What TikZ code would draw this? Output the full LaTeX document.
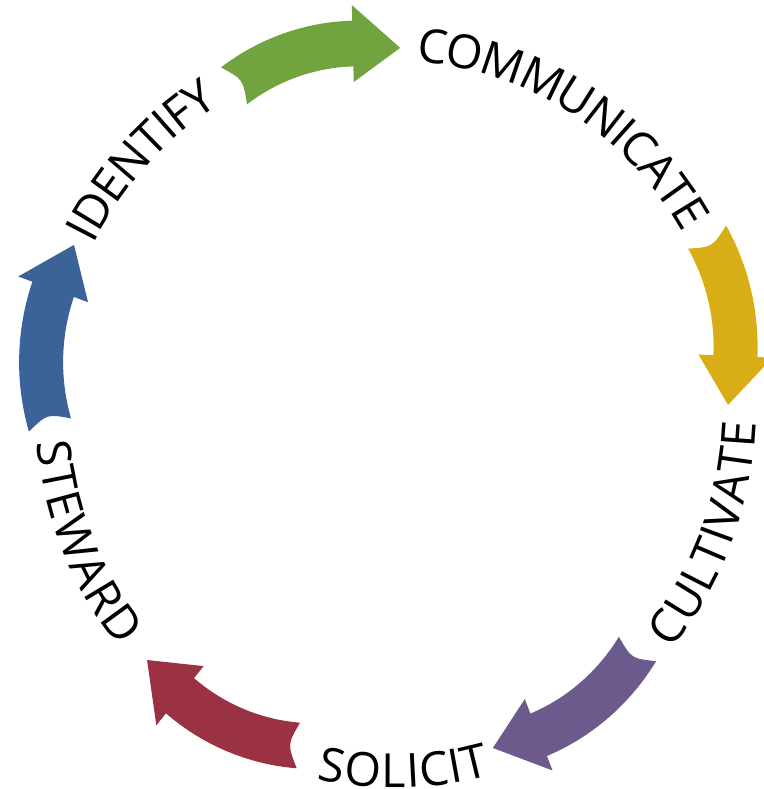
\documentclass[tikz,border=0pt]{standalone}
\usepackage{fontspec}
\usepackage{tikz}
\usetikzlibrary{decorations.text}
\newfontfamily\cyclefont{Open Sans}
\definecolor{idgreen}{HTML}{71A33E}
\definecolor{comyellow}{HTML}{D8AD16}
\definecolor{cultpurple}{HTML}{6D5A8D}
\definecolor{solred}{HTML}{9A3244}
\definecolor{stewblue}{HTML}{3B6299}
% colour, centre of the arc, tail angle, tip angle
\newcommand{\cyclearrow}[4]{%
  \fill[#1, shift={(#2)}] (#3:232) arc[start angle=#3, end angle=#4+13, radius=232]
    -- ({#4+13}:247) -- (#4:210) -- ({#4+13}:173) -- ({#4+13}:188)
    arc[start angle=#4+13, end angle=#3, radius=188]
    .. controls ({#3-3}:210) .. cycle;
}
\tikzset{
  cycle text/.style={decorate, decoration={text along path, text align=center, raise=-17pt,
    text={|\cyclefont\fontsize{47}{50}\selectfont|#1}}}
}

\begin{document}
\begin{tikzpicture}[x=1pt, y=1pt]
\useasboundingbox (0,0) rectangle (763,789);
\begin{scope}[shift={(395,381)}, yscale=1.04]
    \cyclearrow{idgreen}{-36.7,140.5}{126.3}{78.5}
    \cyclearrow{comyellow}{130.6,58.7}{30.2}{-15.4}
    \cyclearrow{cultpurple}{65,-119.5}{-32.3}{-81}
    \cyclearrow{solred}{-80.9,-115.1}{-94.3}{-142.7}
    \cyclearrow{stewblue}{-143.9,44}{196.7}{147.5}
    \path[cycle text=IDENTIFY] (176.5:357) arc[start angle=176.5, end angle=96.5, radius=357];
    \path[cycle text=COMMUNICATE] (103.6:350) arc[start angle=103.6, end angle=13.6, radius=350];
    \path[cycle text=CULTIVATE] (-61.4:344) arc[start angle=-61.4, end angle=18.6, radius=344];
    \path[cycle text=SOLICIT] (-128.6:349) arc[start angle=-128.6, end angle=-48.6, radius=349];
    \path[cycle text=STEWARD] (-197.1:342.5) arc[start angle=-197.1, end angle=-117.1, radius=342.5];
\end{scope}
\end{tikzpicture}
\end{document}
